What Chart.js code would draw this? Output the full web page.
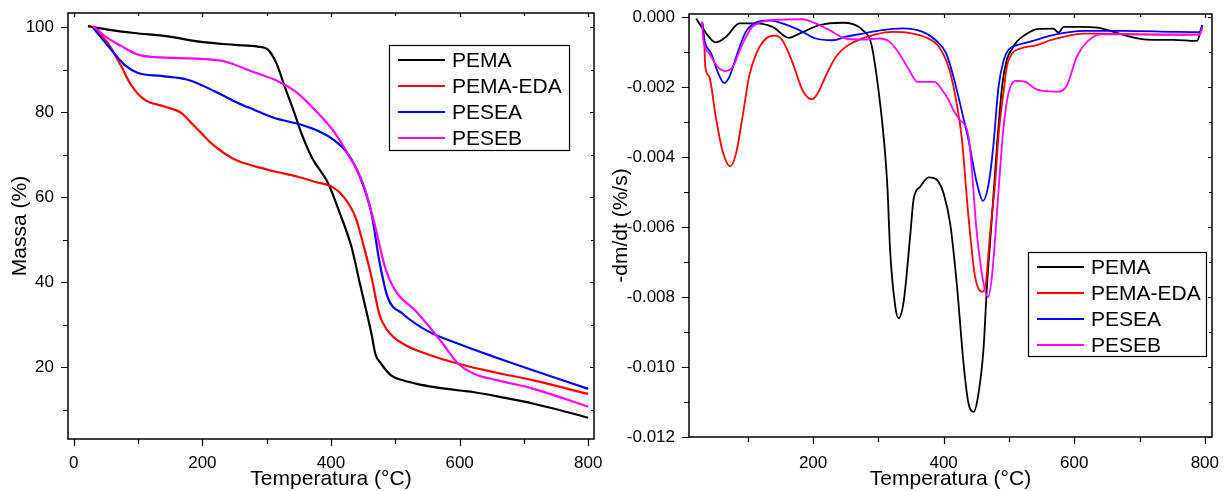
<!DOCTYPE html>
<html>
<head>
<meta charset="utf-8">
<script src="https://cdn.jsdelivr.net/npm/chart.js@4.4.1/dist/chart.umd.min.js"></script>
<style>
body { margin: 0; background: #fff; }
#wrap { display: flex; width: 1227px; height: 491px; }
canvas { display: block; }
</style>
</head>
<body>
<div id="wrap">
  <canvas id="tgaChart" width="610" height="491"></canvas>
  <canvas id="dtgChart" width="617" height="491"></canvas>
</div>
<script>
// series names + colours
var labels = ['PEMA', 'PEMA-EDA', 'PESEA', 'PESEB'];
var colors = ['#000000', '#ff0000', '#0000ff', '#ff00ff'];

// TGA - mass (%) vs temperature (°C)
var pemaT = [22, 53, 94, 146, 198, 250, 286, 302, 315, 328, 343, 354, 370, 396, 414, 432, 445, 463, 469, 478, 494, 512, 535, 561, 600, 623, 666, 715, 758, 800];
var pemaMass = [100.2, 99.4, 98.6, 97.8, 96.5, 95.8, 95.4, 94.7, 91.5, 86, 79.8, 75, 69.4, 63.1, 56.1, 48.2, 39.6, 27.8, 23.1, 20.8, 18, 16.9, 16.0, 15.3, 14.5, 14.1, 12.9, 11.4, 9.8, 8.1];
var edaT = [30, 53, 74, 89, 110, 141, 167, 183, 198, 215, 235, 254, 285, 316, 346, 377, 402, 420, 438, 450, 463, 475, 488, 512, 549, 598, 654, 715, 800];
var edaMass = [100.2, 96.2, 90.7, 86.4, 82.9, 81.3, 79.8, 77.4, 75.1, 72.5, 70.2, 68.6, 67.1, 65.9, 64.9, 63.5, 62.4, 60, 55.3, 49, 41.2, 32.5, 28.6, 25.5, 23.1, 20.8, 18.8, 16.9, 13.7];
var seaT = [30, 58, 79, 100, 136, 177, 219, 250, 281, 312, 354, 385, 402, 426, 445, 463, 475, 488, 512, 549, 598, 654, 715, 800];
var seaMass = [99.8, 94.7, 91.1, 89.2, 88.5, 87.6, 84.9, 82.5, 80.5, 78.6, 77, 75.2, 73.7, 70.2, 64.7, 56.1, 45.1, 36.5, 32.5, 28.6, 25.5, 22.4, 19.2, 14.9];
var sebT = [30, 53, 74, 100, 126, 198, 235, 276, 318, 344, 375, 406, 426, 450, 469, 484, 500, 531, 549, 574, 598, 623, 660, 715, 800];
var sebMass = [100.2, 97.4, 95.5, 93.5, 92.9, 92.5, 91.9, 89.6, 87.2, 84.9, 80.5, 75.1, 70.2, 63.1, 52.9, 43.5, 38, 33.3, 30.2, 25.5, 20.8, 18.4, 16.9, 14.9, 10.7];

// DTG - -dm/dt (%/s) vs temperature (°C)
var pemaDT = [21, 31, 51, 67, 87, 112, 138, 163, 179, 210, 245, 261, 276, 289, 301, 309, 314, 318, 326, 331, 339, 349, 354, 364, 377, 385, 392, 400, 410, 420, 431, 438, 446, 453, 461, 466, 474, 482, 490, 497, 505, 512, 528, 543, 568, 576, 584, 609, 635, 660, 686, 711, 752, 788, 796];
var pemaRate = [-0.00004, -0.00032, -0.00072, -0.00056, -0.00018, -0.00018, -0.00028, -0.00059, -0.00047, -0.00023, -0.00016, -0.0002, -0.00037, -0.00075, -0.0022, -0.0036, -0.0049, -0.00666, -0.00828, -0.0086, -0.0081, -0.0062, -0.0052, -0.00485, -0.00458, -0.0046, -0.0047, -0.00504, -0.0059, -0.0076, -0.0100, -0.01103, -0.01128, -0.0108, -0.0095, -0.0078, -0.0057, -0.0036, -0.0019, -0.0012, -0.0009, -0.0007, -0.00047, -0.00034, -0.00033, -0.00044, -0.00028, -0.00028, -0.0003, -0.00042, -0.00056, -0.00064, -0.00065, -0.00068, -0.00023];
var edaDT = [31, 33, 35, 41, 51, 61, 73, 82, 92, 102, 113, 128, 141, 153, 169, 184, 198, 207, 220, 235, 250, 271, 296, 322, 347, 373, 393, 409, 420, 428, 438, 448, 459, 464, 471, 479, 484, 492, 497, 505, 517, 543, 563, 589, 614, 635, 701, 752, 792, 796];
var edaRate = [-0.00018, -0.00056, -0.00142, -0.0017, -0.00285, -0.0038, -0.00426, -0.0039, -0.00285, -0.0017, -0.00104, -0.00061, -0.00053, -0.00066, -0.00132, -0.00209, -0.00235, -0.00218, -0.00166, -0.00113, -0.00085, -0.00064, -0.00049, -0.00042, -0.00045, -0.00058, -0.00085, -0.00151, -0.00247, -0.0035, -0.0057, -0.0074, -0.00785, -0.0077, -0.0062, -0.0047, -0.0034, -0.0021, -0.0014, -0.00104, -0.0009, -0.0008, -0.00066, -0.00054, -0.00047, -0.00047, -0.00049, -0.0005, -0.00049, -0.0003];
var seaDT = [30, 33, 44, 56, 64, 72, 84, 97, 113, 133, 153, 179, 204, 230, 250, 276, 306, 337, 368, 388, 404, 415, 431, 438, 451, 460, 469, 476, 484, 492, 499, 512, 533, 558, 584, 614, 676, 752, 792, 796];
var seaRate = [-0.00013, -0.00061, -0.00104, -0.00166, -0.00188, -0.0017, -0.00104, -0.00042, -0.00015, -0.00009, -0.00018, -0.00037, -0.00061, -0.00066, -0.00056, -0.00047, -0.00037, -0.00032, -0.00042, -0.00066, -0.00104, -0.0017, -0.00294, -0.0035, -0.00475, -0.00525, -0.00475, -0.0037, -0.002, -0.00123, -0.00094, -0.0008, -0.0007, -0.00056, -0.00045, -0.00039, -0.00039, -0.00042, -0.00043, -0.00023];
var sebDT = [30, 32, 41, 54, 66, 77, 90, 105, 123, 153, 184, 204, 225, 250, 276, 301, 317, 332, 347, 360, 386, 398, 409, 415, 425, 438, 451, 461, 468, 474, 482, 487, 492, 499, 510, 525, 543, 576, 589, 604, 620, 640, 676, 727, 792, 796];
var sebRate = [-0.00015, -0.00066, -0.00104, -0.00142, -0.00154, -0.00142, -0.00085, -0.00032, -0.00013, -0.00007, -0.00006, -0.00018, -0.00037, -0.00061, -0.00064, -0.00061, -0.0007, -0.00104, -0.00151, -0.00185, -0.00185, -0.00209, -0.00242, -0.00266, -0.00294, -0.0034, -0.0062, -0.0076, -0.008, -0.0074, -0.0055, -0.0042, -0.0031, -0.0022, -0.00182, -0.00185, -0.00207, -0.00213, -0.00194, -0.00113, -0.0007, -0.00049, -0.00049, -0.0005, -0.0005, -0.0003];

// ticks
var tgaXTicks = [0, 200, 400, 600, 800];
var tgaXMinor = [100, 300, 500, 700];
var tgaYTicks = [20, 40, 60, 80, 100];
var tgaYMinor = [10, 30, 50, 70, 90];
var dtgXTicks = [200, 400, 600, 800];
var dtgXMinor = [100, 300, 500, 700];
var dtgYTicks = [-0.012, -0.010, -0.008, -0.006, -0.004, -0.002, 0];
var dtgYMinor = [-0.011, -0.009, -0.007, -0.005, -0.003, -0.001];

function pts(xs, ys) {
  return xs.map(function (x, i) { return { x: x, y: ys[i] }; });
}

function makeSets(list, width) {
  return list.map(function (d, i) {
    return {
      label: labels[i],
      data: pts(d[0], d[1]),
      borderColor: colors[i],
      backgroundColor: colors[i],
      borderWidth: width,
      pointRadius: 0,
      cubicInterpolationMode: 'monotone',
      fill: false,
      order: 4 - i
    };
  });
}

// frame, ticks and in-plot legend
var framePlugin = {
  id: 'frame',
  afterDraw: function (chart, args, o) {
    var ctx = chart.ctx, a = chart.chartArea;
    var xs = chart.scales.x, ys = chart.scales.y;
    ctx.save();
    ctx.strokeStyle = '#000';
    ctx.lineWidth = 1.5;
    ctx.strokeRect(a.left, a.top, a.right - a.left, a.bottom - a.top);

    ctx.lineWidth = 1.2;
    ctx.beginPath();
    function xt(list, len, inLen) {
      list.forEach(function (v) {
        var p = Math.round(xs.getPixelForValue(v)) + 0.5;
        ctx.moveTo(p, a.bottom); ctx.lineTo(p, a.bottom + len);
        ctx.moveTo(p, a.top); ctx.lineTo(p, a.top + inLen);
      });
    }
    function yt(list, len, inLen) {
      list.forEach(function (v) {
        var p = Math.round(ys.getPixelForValue(v)) + 0.5;
        ctx.moveTo(a.left, p); ctx.lineTo(a.left - len, p);
        ctx.moveTo(a.right, p); ctx.lineTo(a.right - inLen, p);
      });
    }
    xt(o.xMajor, 7, 4); xt(o.xMinor, 5, 3);
    yt(o.yMajor, 7, 4); yt(o.yMinor, 5, 3);
    ctx.stroke();

    // legend
    var L = o.legend;
    ctx.fillStyle = '#fff';
    ctx.fillRect(L.x, L.y, L.w, L.h);
    ctx.lineWidth = 1.2;
    ctx.strokeRect(L.x + 0.5, L.y + 0.5, L.w, L.h);
    ctx.font = '21px "Liberation Sans", Arial, sans-serif';
    ctx.textBaseline = 'middle';
    chart.data.datasets.forEach(function (ds, i) {
      var yy = L.y + L.first + i * L.gap;
      ctx.strokeStyle = ds.borderColor;
      ctx.lineWidth = 2;
      ctx.beginPath();
      ctx.moveTo(L.x + 9, yy); ctx.lineTo(L.x + 56, yy);
      ctx.stroke();
      ctx.fillStyle = '#000';
      ctx.fillText(ds.label, L.x + 63, yy + 1);
    });
    ctx.restore();
  }
};

function axisOpts(min, max, ticks, size, pad, title, titlePad, fmt) {
  return {
    type: 'linear', min: min, max: max,
    afterBuildTicks: function (s) { s.ticks = ticks.map(function (v) { return { value: v }; }); },
    afterFit: function (s) {
      if (s.isHorizontal()) s.height = size; else s.width = size;
      // no extra room for overhanging labels, the frame is placed by layout padding
      s.paddingTop = 0; s.paddingBottom = 0; s.paddingLeft = 0; s.paddingRight = 0;
    },
    grid: { display: false, drawTicks: false },
    border: { display: false },
    ticks: {
      color: '#000', padding: pad, autoSkip: false, maxRotation: 0,
      font: { family: '"Liberation Sans", Arial, sans-serif', size: 17 },
      callback: fmt
    },
    title: {
      display: true, text: title, color: '#000', padding: titlePad,
      font: { family: '"Liberation Sans", Arial, sans-serif', size: 21, lineHeight: 1.1 }
    }
  };
}

Chart.defaults.animation = false;

new Chart(document.getElementById('tgaChart'), {
  type: 'line',
  data: {
    datasets: makeSets([[pemaT, pemaMass], [edaT, edaMass], [seaT, seaMass], [sebT, sebMass]], 2.2)
  },
  options: {
    responsive: false,
    layout: { padding: { top: 13, right: 16, left: 0, bottom: 0 } },
    scales: {
      x: axisOpts(-9, 809, tgaXTicks, 52, 14, 'Temperatura (°C)', { top: 0, bottom: 0 }, function (v) { return v; }),
      y: axisOpts(3.1, 103.3, tgaYTicks, 68, 14, 'Massa (%)', { top: 9, bottom: 0 }, function (v) { return v; })
    },
    plugins: {
      legend: { display: false },
      tooltip: { enabled: false },
      frame: {
        xMajor: tgaXTicks, xMinor: tgaXMinor, yMajor: tgaYTicks, yMinor: tgaYMinor,
        legend: { x: 389, y: 45, w: 180, h: 105, first: 15, gap: 26 }
      }
    }
  },
  plugins: [framePlugin]
});

new Chart(document.getElementById('dtgChart'), {
  type: 'line',
  data: {
    datasets: makeSets([[pemaDT, pemaRate], [edaDT, edaRate], [seaDT, seaRate], [sebDT, sebRate]], 1.8)
  },
  options: {
    responsive: false,
    layout: { padding: { top: 14, right: 15, left: 0, bottom: 0 } },
    scales: {
      x: axisOpts(10, 811, dtgXTicks, 54, 16, 'Temperatura (°C)', { top: 0, bottom: 0 }, function (v) { return v; }),
      y: axisOpts(-0.012, 0.00009, dtgYTicks, 79, 14, '-dm/dt (%/s)', { top: 0, bottom: 0 }, function (v) { return Math.abs(v) < 1e-9 ? '0.000' : v.toFixed(3); })
    },
    plugins: {
      legend: { display: false },
      tooltip: { enabled: false },
      frame: {
        xMajor: dtgXTicks, xMinor: dtgXMinor, yMajor: dtgYTicks, yMinor: dtgYMinor,
        legend: { x: 418, y: 252, w: 178, h: 104, first: 15, gap: 26 }
      }
    }
  },
  plugins: [framePlugin]
});
</script>
</body>
</html>
